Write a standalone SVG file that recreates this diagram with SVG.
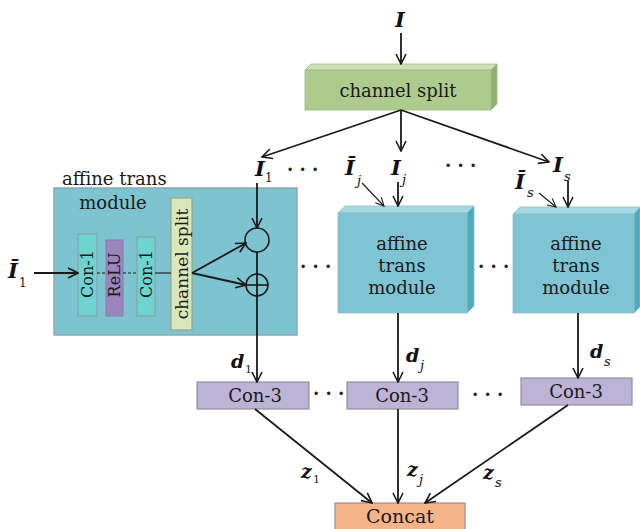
<svg xmlns="http://www.w3.org/2000/svg" width="640" height="529" viewBox="0 0 640 529">
<style>
.t{fill:#1a1a1a}
.m{font-weight:bold;font-style:italic;fill:#111}
.sb{font-style:italic;fill:#111;font-size:13px}
.ln{stroke:#1a1a1a;stroke-width:1.8;fill:none}
.thin{stroke:#1a1a1a;stroke-width:1.1;fill:none}
.dots{font-size:18px;font-weight:bold;fill:#222}
</style>
<defs>
<marker id="ah" viewBox="0 0 12 12" refX="11" refY="6" markerWidth="12" markerHeight="12" markerUnits="userSpaceOnUse" orient="auto">
<path d="M1,1 L11,6 L1,11" fill="none" stroke="#1a1a1a" stroke-width="1.6"/>
</marker>
<marker id="ahs" viewBox="0 0 12 12" refX="11" refY="6" markerWidth="10" markerHeight="10" markerUnits="userSpaceOnUse" orient="auto">
<path d="M1,1 L11,6 L1,11" fill="none" stroke="#1a1a1a" stroke-width="1.3"/>
</marker>
</defs>
<rect width="640" height="529" fill="#ffffff"/>
<g font-family="DejaVu Serif, Liberation Serif, serif">

<g id="input-I">
<text class="m" x="400" y="27" font-size="21" text-anchor="middle">I</text>
</g>

<g id="channel-split">
<polygon points="305,70 311,64 497,64 491,70" fill="#cfe0b8" stroke="#9fb88a" stroke-width="0.8"/>
<polygon points="491,70 497,64 497,104 491,110" fill="#8fb070" stroke="#9fb88a" stroke-width="0.8"/>
<rect x="305" y="70" width="186" height="40" fill="#adcb8d" stroke="#9fb88a" stroke-width="0.8"/>
<text class="t" x="398" y="97" font-size="18" text-anchor="middle">channel split</text>
</g>

<g id="labels-top">
<text class="m" x="255" y="176" font-size="21">I</text>
<text class="t" x="265" y="182" font-size="12">1</text>
<text class="dots" x="287" y="176">· · ·</text>
<text class="m" x="345" y="175" font-size="21">Ī</text>
<text class="sb" x="357" y="185">j</text>
<text class="m" x="391" y="175" font-size="21">I</text>
<text class="sb" x="402" y="184">j</text>
<text class="dots" x="445" y="172">· · ·</text>
<text class="m" x="553" y="172" font-size="21">I</text>
<text class="sb" x="564" y="181">s</text>
<text class="m" x="515" y="189" font-size="21">Ī</text>
<text class="sb" x="527" y="197">s</text>
</g>

<g id="module-1">
<rect x="54" y="188" width="243" height="147" fill="#7ec3d0" stroke="#8ea8b0" stroke-width="1.5"/>
<text class="t" x="62" y="185" font-size="18">affine trans</text>
<text class="t" x="113" y="209" font-size="18" text-anchor="middle">module</text>
<rect x="78" y="234" width="19" height="82" fill="#6fd3cf" stroke="#8aa5a8" stroke-width="1.2"/>
<text class="t" transform="translate(93,274) rotate(-90)" font-size="16" text-anchor="middle">Con-1</text>
<rect x="106" y="240" width="17" height="76" fill="#9a86bc" stroke="#8a7aa8" stroke-width="1"/>
<text class="t" transform="translate(120,275) rotate(-90)" font-size="16" text-anchor="middle">ReLU</text>
<rect x="137" y="237" width="18" height="79" fill="#6fd3cf" stroke="#8aa5a8" stroke-width="1.2"/>
<text class="t" transform="translate(152,274) rotate(-90)" font-size="16" text-anchor="middle">Con-1</text>
<rect x="171" y="198" width="21" height="132" fill="#dbe6bb" stroke="#9aa58a" stroke-width="1.2"/>
<text class="t" transform="translate(188,264) rotate(-90)" font-size="17" text-anchor="middle">channel split</text>
<line x1="97" y1="273" x2="106" y2="273" class="thin" stroke-dasharray="3,2"/>
<line x1="123" y1="273" x2="137" y2="273" class="thin" stroke-dasharray="3,2"/>
<line x1="155" y1="273" x2="171" y2="273" class="thin"/>
<circle cx="257" cy="240" r="12" fill="none" stroke="#1a1a1a" stroke-width="1.6"/>
<circle cx="257" cy="285" r="11" fill="none" stroke="#1a1a1a" stroke-width="1.6"/>
<line x1="246" y1="285" x2="268" y2="285" stroke="#1a1a1a" stroke-width="1.6"/>
</g>

<g id="input-I1bar">
<text class="m" x="8" y="278" font-size="21">Ī</text>
<text class="t" x="19" y="287" font-size="12">1</text>
</g>

<g id="module-j">
<polygon points="338,213 345,206 474,206 467,213" fill="#a8d8e2" stroke="#8ec0cc" stroke-width="0.8"/>
<polygon points="467,213 474,206 474,306 467,313" fill="#4faabd" stroke="#8ec0cc" stroke-width="0.8"/>
<rect x="338" y="213" width="129" height="100" fill="#7fc4d2" stroke="#8ec0cc" stroke-width="0.8"/>
<text class="t" x="402" y="250" font-size="18" text-anchor="middle">affine</text>
<text class="t" x="402" y="272" font-size="18" text-anchor="middle">trans</text>
<text class="t" x="402" y="294" font-size="18" text-anchor="middle">module</text>
</g>

<g id="module-s">
<polygon points="513,214 520,207 640,207 634,214" fill="#a8d8e2" stroke="#8ec0cc" stroke-width="0.8"/>
<polygon points="634,214 640,207 640,307 634,313" fill="#4faabd" stroke="#8ec0cc" stroke-width="0.8"/>
<rect x="513" y="214" width="121" height="99" fill="#7fc4d2" stroke="#8ec0cc" stroke-width="0.8"/>
<text class="t" x="576" y="250" font-size="18" text-anchor="middle">affine</text>
<text class="t" x="576" y="272" font-size="18" text-anchor="middle">trans</text>
<text class="t" x="576" y="294" font-size="18" text-anchor="middle">module</text>
</g>

<g id="dots-mid">
<text class="dots" x="300" y="273">· · ·</text>
<text class="dots" x="478" y="273">· · ·</text>
</g>

<g id="con3-1">
<rect x="197" y="382" width="112" height="27" fill="#bcb3d6" stroke="#8f8f9a" stroke-width="1.2"/>
<text class="t" x="255" y="402" font-size="18" text-anchor="middle">Con-3</text>
</g>
<g id="con3-j">
<rect x="347" y="382" width="111" height="27" fill="#bcb3d6" stroke="#8f8f9a" stroke-width="1.2"/>
<text class="t" x="402" y="402" font-size="18" text-anchor="middle">Con-3</text>
</g>
<g id="con3-s">
<rect x="521" y="378" width="111" height="27" fill="#bcb3d6" stroke="#8f8f9a" stroke-width="1.2"/>
<text class="t" x="576" y="398" font-size="18" text-anchor="middle">Con-3</text>
</g>
<g id="dots-bottom">
<text class="dots" x="313" y="400">· · ·</text>
<text class="dots" x="472" y="401">· · ·</text>
</g>

<g id="labels-d-z">
<text class="m" x="231" y="368" font-size="19">d</text>
<text class="t" x="245" y="373" font-size="11">1</text>
<text class="m" x="406" y="362" font-size="19">d</text>
<text class="sb" x="420" y="370">j</text>
<text class="m" x="590" y="358" font-size="19">d</text>
<text class="sb" x="604" y="366">s</text>
<text class="m" x="301" y="478" font-size="19">z</text>
<text class="t" x="313" y="483" font-size="11">1</text>
<text class="m" x="407" y="476" font-size="19">z</text>
<text class="sb" x="419" y="484">j</text>
<text class="m" x="483" y="479" font-size="19">z</text>
<text class="sb" x="495" y="487">s</text>
</g>

<g id="concat">
<rect x="335" y="503" width="130" height="28" fill="#f4b48a" stroke="#9a8f88" stroke-width="1.2"/>
<text class="t" x="400" y="523" font-size="19" text-anchor="middle">Concat</text>
</g>
</g>

<g id="connectors">
<line x1="401" y1="33" x2="401" y2="64" class="ln" marker-end="url(#ah)"/>
<line x1="401" y1="110" x2="262" y2="157" class="ln" marker-end="url(#ah)"/>
<line x1="401" y1="110" x2="401" y2="151" class="ln" marker-end="url(#ah)"/>
<line x1="401" y1="110" x2="549" y2="162" class="ln" marker-end="url(#ah)"/>
<line x1="257" y1="183" x2="257" y2="228" class="ln" marker-end="url(#ah)"/>
<line x1="257" y1="252" x2="257" y2="274" class="ln"/>
<line x1="257" y1="274" x2="257" y2="382" class="ln" marker-end="url(#ah)"/>
<line x1="34" y1="273" x2="78" y2="273" class="ln" marker-end="url(#ah)"/>
<line x1="192" y1="273" x2="246" y2="243" class="ln" marker-end="url(#ah)"/>
<line x1="192" y1="273" x2="246" y2="285" class="ln" marker-end="url(#ah)"/>
<line x1="398" y1="182" x2="398" y2="206" class="ln" marker-end="url(#ah)"/>
<line x1="362" y1="183" x2="384" y2="206" class="thin" marker-end="url(#ahs)"/>
<line x1="568" y1="181" x2="568" y2="207" class="ln" marker-end="url(#ah)"/>
<line x1="539" y1="193" x2="556" y2="207" class="thin" marker-end="url(#ahs)"/>
<line x1="398" y1="313" x2="398" y2="382" class="ln" marker-end="url(#ah)"/>
<line x1="578" y1="313" x2="578" y2="378" class="ln" marker-end="url(#ah)"/>
<line x1="255" y1="409" x2="372" y2="503" class="ln" marker-end="url(#ah)"/>
<line x1="398" y1="409" x2="398" y2="503" class="ln" marker-end="url(#ah)"/>
<line x1="568" y1="405" x2="425" y2="503" class="ln" marker-end="url(#ah)"/>
</g>
</svg>
